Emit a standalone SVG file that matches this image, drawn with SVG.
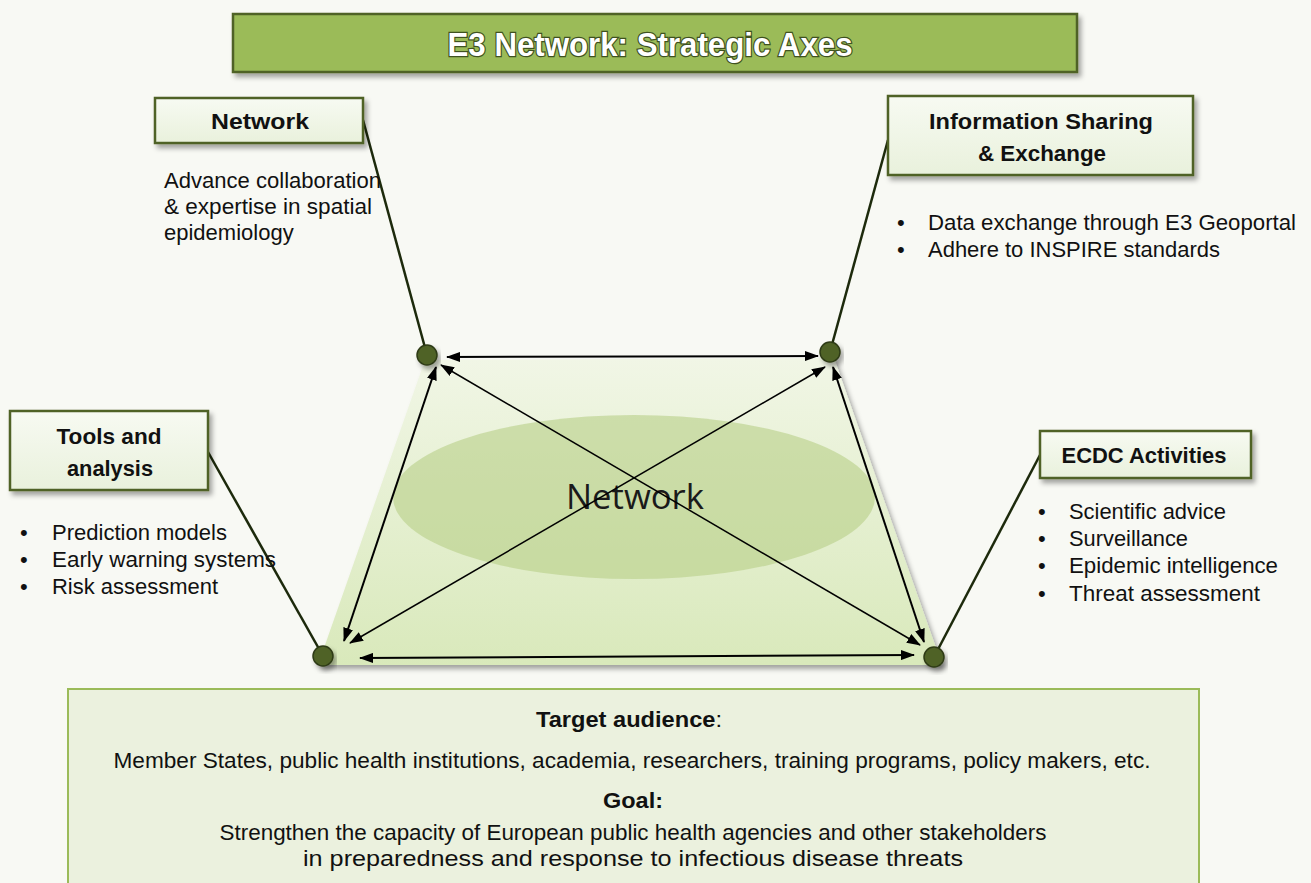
<svg xmlns="http://www.w3.org/2000/svg" width="1311" height="883" viewBox="0 0 1311 883">
<defs>
<marker id="ah" viewBox="0 0 14 10" refX="13" refY="5" markerWidth="14" markerHeight="10" markerUnits="userSpaceOnUse" orient="auto-start-reverse">
<path d="M0,0 L14,5 L0,10 z" fill="#000"/>
</marker>
<linearGradient id="trap" x1="0" y1="0" x2="0" y2="1">
<stop offset="0" stop-color="#f1f6e6"/>
<stop offset="1" stop-color="#d9e9bb"/>
</linearGradient>
<linearGradient id="boxg" x1="0" y1="0" x2="0" y2="1">
<stop offset="0" stop-color="#f7faf2"/>
<stop offset="1" stop-color="#e9f1dc"/>
</linearGradient>
<filter id="sh" x="-10%" y="-20%" width="130%" height="160%">
<feDropShadow dx="3" dy="4" stdDeviation="2.5" flood-color="#000" flood-opacity="0.35"/>
</filter>
</defs>
<style>
.box{fill:url(#boxg);stroke:#4f6228;stroke-width:2.5;filter:url(#sh)}
.hd{font-family:"Liberation Sans",Arial,sans-serif;font-weight:bold;font-size:22px;fill:#111;text-anchor:middle}
.tx{font-family:"Liberation Sans",Arial,sans-serif;font-size:22px;fill:#111}
.bt{font-family:"Liberation Sans",Arial,sans-serif;font-size:22px;fill:#111;text-anchor:middle}
.lead{stroke:#1d2a0c;stroke-width:2.5;fill:none}
.dot{fill:#4f6228;stroke:#2e3b16;stroke-width:1.5;filter:url(#sh)}
.arr{stroke:#000;stroke-width:2;fill:none;marker-start:url(#ah);marker-end:url(#ah)}
.arrt{stroke:#000;stroke-width:1.5;fill:none;marker-start:url(#ah);marker-end:url(#ah)}
</style>
<rect width="1311" height="883" fill="#f8f9f4"/>

<g id="title">
<rect x="233" y="14" width="844" height="58" fill="#9bbb59" stroke="#4f6228" stroke-width="2.5" filter="url(#sh)"/>
<text x="650" y="56" font-family="Liberation Sans,Arial,sans-serif" font-weight="bold" font-size="33" fill="#fff" stroke="#3f5220" stroke-width="2.5" paint-order="stroke" text-anchor="middle" textLength="405" lengthAdjust="spacingAndGlyphs">E3 Network: Strategic Axes</text>
</g>

<g id="center">
<polygon points="425,360 834,358 942,665 318,665" fill="url(#trap)" filter="url(#sh)"/>
<ellipse cx="634" cy="497" rx="241" ry="82" fill="#b8cf87" fill-opacity="0.6"/>
<text x="635" y="509" font-family="Open Sans,Liberation Sans,sans-serif" font-size="35" fill="#1a1a1a" text-anchor="middle" textLength="138" lengthAdjust="spacingAndGlyphs">Network</text>
</g>

<g id="connectors">
<line class="lead" x1="363" y1="120" x2="427" y2="355"/>
<line class="lead" x1="888" y1="140" x2="830" y2="352"/>
<line class="lead" x1="208" y1="452" x2="323" y2="656"/>
<line class="lead" x1="1040" y1="455" x2="934" y2="657"/>
<line class="arr" x1="447" y1="357" x2="818" y2="356"/>
<line class="arr" x1="360" y1="658" x2="914" y2="655"/>
<line class="arr" x1="436" y1="367" x2="344" y2="641"/>
<line class="arr" x1="833" y1="367" x2="924" y2="642"/>
<line class="arrt" x1="441" y1="365" x2="920" y2="645"/>
<line class="arrt" x1="825" y1="367" x2="350" y2="643"/>
</g>

<g id="dots">
<circle class="dot" cx="427" cy="355" r="10"/>
<circle class="dot" cx="830" cy="352" r="10"/>
<circle class="dot" cx="323" cy="656" r="10"/>
<circle class="dot" cx="934" cy="657" r="10"/>
</g>

<g id="node-network">
<rect class="box" x="155" y="98" width="208" height="45"/>
<text class="hd" x="260" y="129" textLength="98" lengthAdjust="spacingAndGlyphs">Network</text>
<text class="tx" x="164" y="188" textLength="217" lengthAdjust="spacingAndGlyphs">Advance collaboration</text>
<text class="tx" x="164" y="214" textLength="208" lengthAdjust="spacingAndGlyphs">&amp; expertise in spatial</text>
<text class="tx" x="164" y="240">epidemiology</text>
</g>

<g id="node-info">
<rect class="box" x="888" y="96" width="305" height="79"/>
<text class="hd" x="1041" y="129" textLength="224" lengthAdjust="spacingAndGlyphs">Information Sharing</text>
<text class="hd" x="1042" y="161" textLength="128" lengthAdjust="spacingAndGlyphs">&amp; Exchange</text>
<text class="tx" x="897" y="230">•</text>
<text class="tx" x="928" y="230" textLength="368" lengthAdjust="spacingAndGlyphs">Data exchange through E3 Geoportal</text>
<text class="tx" x="897" y="257">•</text>
<text class="tx" x="928" y="257" textLength="292" lengthAdjust="spacingAndGlyphs">Adhere to INSPIRE standards</text>
</g>

<g id="node-tools">
<rect class="box" x="10" y="411" width="198" height="79"/>
<text class="hd" x="109" y="444" textLength="105" lengthAdjust="spacingAndGlyphs">Tools and</text>
<text class="hd" x="110" y="476" textLength="86" lengthAdjust="spacingAndGlyphs">analysis</text>
<text class="tx" x="20" y="540">•</text>
<text class="tx" x="52" y="540" textLength="175" lengthAdjust="spacingAndGlyphs">Prediction models</text>
<text class="tx" x="20" y="567">•</text>
<text class="tx" x="52" y="567" textLength="224" lengthAdjust="spacingAndGlyphs">Early warning systems</text>
<text class="tx" x="20" y="594">•</text>
<text class="tx" x="52" y="594" textLength="166" lengthAdjust="spacingAndGlyphs">Risk assessment</text>
</g>

<g id="node-ecdc">
<rect class="box" x="1040" y="431" width="211" height="47"/>
<text class="hd" x="1144" y="463" textLength="165" lengthAdjust="spacingAndGlyphs">ECDC Activities</text>
<text class="tx" x="1038" y="519">•</text>
<text class="tx" x="1069" y="519" textLength="157" lengthAdjust="spacingAndGlyphs">Scientific advice</text>
<text class="tx" x="1038" y="546">•</text>
<text class="tx" x="1069" y="546" textLength="119" lengthAdjust="spacingAndGlyphs">Surveillance</text>
<text class="tx" x="1038" y="573">•</text>
<text class="tx" x="1069" y="573" textLength="209" lengthAdjust="spacingAndGlyphs">Epidemic intelligence</text>
<text class="tx" x="1038" y="601">•</text>
<text class="tx" x="1069" y="601" textLength="191" lengthAdjust="spacingAndGlyphs">Threat assessment</text>
</g>

<g id="node-bottom">
<rect x="68" y="689" width="1131" height="200" fill="#ebf1de" stroke="#9bbb59" stroke-width="2"/>
<text class="bt" x="629" y="727" textLength="186" lengthAdjust="spacingAndGlyphs"><tspan font-weight="bold">Target audience</tspan>:</text>
<text class="bt" x="632" y="768" textLength="1037" lengthAdjust="spacingAndGlyphs">Member States, public health institutions, academia,  researchers, training programs, policy makers, etc.</text>
<text class="bt" x="633" y="808" font-weight="bold" textLength="60" lengthAdjust="spacingAndGlyphs">Goal:</text>
<text class="bt" x="633" y="840" textLength="827" lengthAdjust="spacingAndGlyphs">Strengthen the capacity of European public health agencies and other stakeholders</text>
<text class="bt" x="633" y="866" textLength="660" lengthAdjust="spacingAndGlyphs">in preparedness and response to infectious disease threats</text>
</g>
</svg>
